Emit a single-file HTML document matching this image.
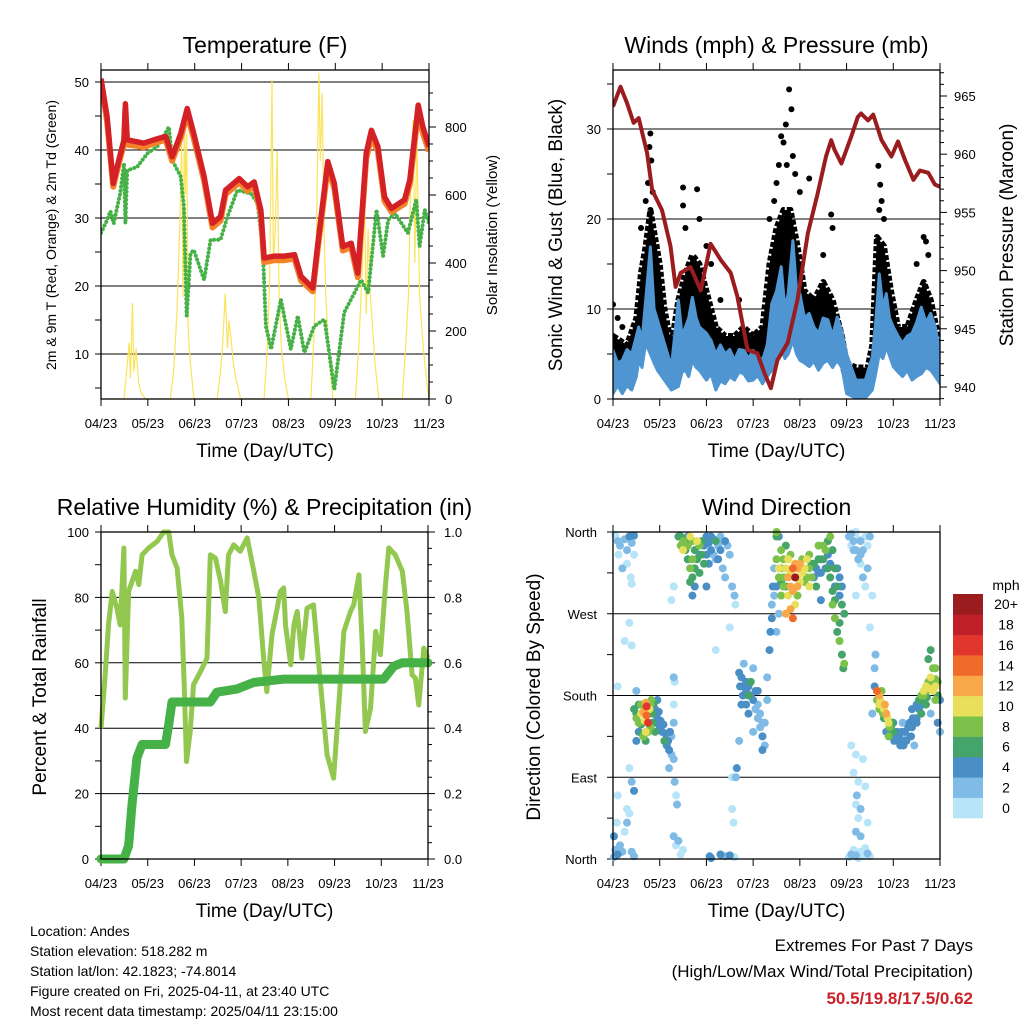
<!DOCTYPE html>
<html><head><meta charset="utf-8"><style>
html,body{margin:0;padding:0;background:#fff;}
svg{display:block;font-family:"Liberation Sans",Arial,sans-serif;}
</style></head><body>
<svg id="chart" width="1024" height="1024" viewBox="0 0 1024 1024" xmlns="http://www.w3.org/2000/svg">
<rect width="1024" height="1024" fill="#fff"/>
</svg>
<script>
// ---------- shared axis data ----------
const dayLabels = ["04/23","05/23","06/23","07/23","08/23","09/23","10/23","11/23"];
// ---------- Temperature panel ----------
const tempTime = [0,0.13,0.26,0.38,0.49,0.52,0.56,0.77,0.91,1.13,1.38,1.52,1.7,1.84,1.98,2.2,2.38,2.55,2.66,2.95,3.13,3.27,3.41,3.48,3.7,3.91,4.13,4.27,4.52,4.62,4.84,4.98,5.16,5.34,5.48,5.66,5.77,5.91,6.05,6.2,6.48,6.59,6.77,6.87,7.0];
const temp2m = [50.5,44.9,35.1,38.5,41.5,46.8,41.5,41.2,41,41.5,42,39,42.4,46.1,42.4,36.1,29.2,30.2,34.1,35.8,34.6,35.3,31.2,24.1,24.4,24.4,24.6,21.4,19.7,25.8,38.3,35.1,25.8,26.3,21.9,39.5,42.9,40.5,33.1,31.4,32.7,35.6,46.6,43.4,40.5];
const temp9m = [50.2,44.2,34.6,38,40.9,46,40.8,40.6,40.4,41,41.5,38.4,41.8,45.2,41.7,35.5,28.6,29.6,33.5,35.2,34,34.8,30.6,23.5,23.8,23.8,24,20.8,19.2,25.2,37.5,34.4,25.2,25.7,21.3,38.7,42,39.8,32.5,30.9,32.1,35,45.6,42.5,39.8];
const dewTime = [0,0.13,0.2,0.27,0.41,0.49,0.52,0.56,0.77,0.99,1.2,1.41,1.45,1.52,1.7,1.77,1.83,1.91,1.98,2.2,2.34,2.55,2.7,2.91,3.2,3.34,3.45,3.52,3.63,3.84,4.05,4.2,4.34,4.55,4.77,4.98,5.19,5.41,5.55,5.7,5.88,6.02,6.13,6.27,6.55,6.73,6.8,6.91,7.0];
const dewPoint = [27.8,29.7,31,29.2,33.6,38,29.2,37,37.5,39.5,40.5,42.9,43.4,38.5,36.1,31.7,15.6,24.8,25.3,20.9,26.8,26.8,30.2,34.1,33.6,32.2,25.8,14.1,10.7,18,10.7,15.6,10.2,14.1,15.1,4.8,16.1,19,20.9,19,31.2,24.4,29.7,30.7,27.8,32.7,25.8,31.2,29.2];
const solarTime = [0,0.49,0.56,0.6,0.63,0.67,0.7,0.75,0.8,0.85,0.95,1.48,1.55,1.62,1.68,1.72,1.75,1.78,1.8,1.83,1.86,1.9,1.98,2.48,2.55,2.6,2.65,2.7,2.73,2.78,2.82,2.88,2.98,3.48,3.55,3.6,3.65,3.68,3.72,3.76,3.8,3.85,3.92,4.0,4.48,4.55,4.6,4.65,4.68,4.72,4.76,4.8,4.87,4.95,5.43,5.5,5.58,5.62,5.66,5.7,5.75,5.8,5.85,5.93,6.43,6.5,6.56,6.62,6.66,6.7,6.74,6.8,6.88,6.95,7.0];
const solarValue = [0,0,100,165,60,282,80,150,50,20,0,0,80,250,500,750,300,850,600,780,200,120,0,0,80,170,311,150,230,170,110,60,0,0,150,350,938,400,500,730,300,150,60,0,0,200,500,960,700,900,500,300,120,0,0,150,400,650,250,500,300,200,100,0,0,150,300,700,820,400,780,300,150,50,0];
const tempTicks = [10,20,30,40,50];
const solarTicks = [0,200,400,600,800];
// ---------- Winds panel ----------
const presTime = [0,0.16,0.3,0.44,0.55,0.73,0.84,1.05,1.23,1.34,1.45,1.66,1.88,2.09,2.31,2.52,2.66,2.88,3.09,3.24,3.38,3.52,3.74,3.95,4.17,4.38,4.56,4.67,4.74,4.89,5.1,5.24,5.31,5.46,5.57,5.75,5.96,6.1,6.25,6.43,6.57,6.75,6.89,7.0];
const pressure = [964.1,965.8,964.4,962.7,963.1,960.1,956.9,955.2,952.1,948.6,949.8,950.3,948.3,952.3,950.9,949.8,947.8,943.2,942.9,941.2,939.9,942.3,943.8,947.5,953.2,956.6,959.8,961.2,960.4,959.2,961.5,963.2,963.5,962.9,963.4,961.2,959.8,961.1,959.5,957.8,958.6,958.4,957.4,957.2];
const windTime = [0,0.1,0.2,0.3,0.4,0.5,0.55,0.62,0.7,0.8,0.88,0.95,1.1,1.25,1.4,1.48,1.55,1.62,1.7,1.78,1.85,2.0,2.1,2.2,2.3,2.4,2.5,2.6,2.7,2.8,2.9,3.0,3.1,3.2,3.3,3.4,3.5,3.6,3.68,3.75,3.85,3.93,4.0,4.1,4.2,4.3,4.4,4.5,4.6,4.7,4.8,4.9,5.0,5.2,5.4,5.55,5.63,5.7,5.78,5.85,5.92,6.0,6.1,6.2,6.3,6.4,6.5,6.6,6.7,6.8,6.9,7.0];
const windLow = [0.6,1.5,0.6,1.5,1,2.5,4.3,3.5,6.2,5,4,3.2,2.1,1,1.4,3,3.2,2.5,4.3,3.5,3.2,2.1,2.8,1,2,1.7,2.5,2.1,3,2.8,2,2.1,2.6,1.7,2.5,3.2,4.5,5.8,4.5,5,6.5,5,4.3,4,3.6,4.2,3.2,4,4.3,3.5,4.3,3.5,0.6,0.1,0.1,1,3,5,4.5,5.8,4.8,3.6,3,2.5,3.2,2.1,2.5,2.8,3.5,3.2,2.5,1.7];
const windHigh = [5.4,4,4.3,5.5,5,7,8,6.5,11,16.9,10,8.8,6.2,3.6,11,7,8,9,11.3,9,8,7.3,6.5,5,6,5,5.5,4.3,5.5,5.4,4.5,5.4,4.8,4.3,6,10.6,12,14.7,10,11.7,17.6,12,11.7,9,9.5,8,7.3,9,8.8,7,9.1,7.5,5,2.1,2.1,4.7,9,13.9,10,11.7,9,8,7,6.2,7,7.3,8.5,10.2,8.5,9.5,8,5];
const gustTime = [0,0.3,0.5,0.6,0.7,0.8,0.9,1.0,1.1,1.25,1.4,1.55,1.7,1.85,2.0,2.2,2.4,2.6,2.8,3.0,3.2,3.35,3.5,3.65,3.8,3.95,4.1,4.3,4.5,4.7,4.9,5.0,5.2,5.45,5.55,5.65,5.8,5.95,6.1,6.3,6.5,6.65,6.8,7.0];
const gustLow = [3,2,4,6,7,8,6,5,4,2,4,5,5,6,5,4,3,3,4,3,4,6,9,9,8,6,5,5,5,5,4,2,1,1,3,7,7,5,4,4,5,6,5,3];
const gustHigh = [7,6,9,14,17,21,18,15,10,6,11,14,16,15,12,8,7,7,8,7,8,15,19,21,21,17,12,11,13,11,7,4,3.5,3.5,6,18,17,12,8,8,11,13,11,6];
const gustOutTime = [0.0,0.1,0.2,0.6,0.7,0.75,0.78,0.8,0.82,0.85,1.5,1.5,1.55,1.8,1.85,2.0,2.1,2.3,2.7,3.35,3.45,3.5,3.55,3.6,3.65,3.7,3.72,3.77,3.82,3.85,3.9,4.0,4.2,4.5,4.67,4.7,5.68,5.7,5.72,5.75,5.8,6.65,6.7,6.75,6.5];
const gustOutValue = [10.5,9,8,19,22,24,28,29.5,26.5,23,23.5,21.5,19,23.3,20,17,15,11,11,20,22,24,26,29.2,28.5,30.5,26,34.4,32.2,27,25,23,24.5,16,20.5,19,25.9,21,23.8,22,20,18,17.5,16,15];
const windTicks = [0,10,20,30];
const presTicks = [940,945,950,955,960,965];
// ---------- RH / precip panel ----------
const rhTime = [0,0.09,0.16,0.24,0.34,0.41,0.49,0.52,0.59,0.74,0.81,0.88,1.02,1.2,1.34,1.45,1.52,1.63,1.73,1.78,1.83,1.91,1.98,2.13,2.27,2.34,2.45,2.56,2.66,2.73,2.84,2.98,3.13,3.27,3.38,3.48,3.55,3.66,3.84,3.91,3.95,4.06,4.13,4.2,4.3,4.41,4.55,4.7,4.84,4.98,5.12,5.2,5.34,5.41,5.52,5.59,5.66,5.77,5.88,5.98,6.09,6.16,6.3,6.45,6.55,6.66,6.73,6.8,6.91,7.0];
const rhValue = [40,56.3,71.6,81.8,76.7,71.6,95.1,49.2,81.8,88,83.9,93,95.1,97.1,100,100,93,89,73.7,53.3,29.8,39,53.3,57.3,61.4,93,92,84.9,75.7,93,96.1,94.1,98.2,88,79.8,61.4,51.2,68.6,81.8,82.9,71.6,59.4,71.6,75.7,61.4,76.7,77.7,53.3,31.8,24.7,53.3,69.6,75.7,77.7,86.9,66.5,39,46.1,69.6,62.5,83.9,95.1,93,88,75.7,56.3,55.3,47.1,64.5,61.4];
const rainTime = [0,0.49,0.59,0.66,0.77,0.88,1.38,1.45,1.52,2.34,2.48,2.91,3.27,3.91,6.05,6.27,6.45,7.0];
const rainTotal = [0,0,0.04,0.16,0.31,0.35,0.35,0.41,0.48,0.48,0.51,0.52,0.54,0.55,0.55,0.59,0.60,0.60];
const pctTicks = [0,20,40,60,80,100];
const rainTicks = ["0.0","0.2","0.4","0.6","0.8","1.0"];
// ---------- Wind direction panel: [time, degrees, mph] ----------
const windDirObs = [
[0.05,357,1],[0.1,350,2],[0.15,345,2],[0.25,352,3],[0.3,340,2],[0.35,355,4],[0.4,348,2],[0.45,335,1],[0.2,320,2],[0.12,335,1],[0.3,325,1],[0.45,356,4],[0.38,310,1],[0.4,303,0],
[0.02,25,4],[0.05,10,2],[0.1,5,4],[0.15,15,2],[0.2,8,3],[0.25,30,1],[0.3,40,2],[0.35,50,0],[0.4,8,2],[0.45,3,2],[0.08,40,1],[0.02,2,3],[0.1,70,0],[0.3,55,1],
[0.35,260,0],[0.25,240,0],[0.4,235,1],[0.1,190,1],[0.5,185,2],[0.45,75,4],[0.4,85,2],[0.35,100,1],
[0.45,165,6],[0.5,155,8],[0.55,170,6],[0.6,160,10],[0.7,172,12],[0.72,158,14],[0.75,150,16],[0.7,140,10],[0.65,135,8],[0.6,148,6],[0.55,140,4],[0.8,170,8],[0.85,160,6],[0.9,165,4],[0.95,155,4],[1.0,145,4],[1.05,140,4],[1.1,130,6],[1.15,125,4],[1.2,120,4],[1.25,115,2],[1.3,110,2],[1.25,135,2],[0.9,140,6],[0.8,145,8],[1.3,150,2],[1.3,170,0],[1.32,195,0],[1.3,200,2],[0.95,175,4],[0.5,130,4],[1.2,100,2],
[0.5,160,6],[0.55,150,8],[0.6,170,8],[0.65,162,12],[0.68,152,10],[0.72,168,16],[0.78,165,10],[0.75,140,8],[0.85,150,6],[0.88,172,6],[0.92,150,4],[0.98,162,4],[1.02,152,4],[1.08,148,4],[1.12,138,4],[1.18,130,4],[1.22,140,4],[0.62,138,6],[0.7,130,6],[0.82,175,8],
[1.32,85,2],[1.35,70,0],[1.37,60,2],[1.3,25,2],[1.35,15,0],[1.4,20,2],[1.45,5,0],[1.5,10,0],
[1.4,355,6],[1.45,345,8],[1.5,340,10],[1.55,350,6],[1.6,330,6],[1.65,320,8],[1.7,310,6],[1.8,350,10],[1.85,345,8],[1.9,335,6],[1.95,325,6],[2.0,355,4],[2.05,348,4],[2.1,340,4],[2.15,352,4],[2.2,330,2],[2.25,345,2],[2.3,355,2],[2.35,320,2],[2.4,310,2],[2.5,335,2],[2.55,300,2],[2.6,290,2],[2.62,280,0],[1.75,300,4],[1.7,290,4],[1.85,315,6],[2.0,300,4],[1.25,285,0],[1.3,300,0],[2.4,350,4],[1.6,355,4],[2.2,350,6],
[1.45,355,6],[1.5,350,8],[1.55,340,6],[1.6,345,8],[1.65,355,10],[1.7,350,8],[1.75,340,6],[1.8,330,6],[1.9,350,6],[1.95,345,4],[2.0,335,4],[2.05,325,4],[2.1,355,4],[2.15,335,2],[2.25,330,4],[2.3,340,4],[2.35,350,2],[2.45,345,2],[1.7,330,8],[1.75,320,6],[1.65,305,6],[1.85,335,4],
[2.07,3,4],[2.1,1,4],[2.3,5,4],[2.4,3,2],[2.5,4,4],[2.6,2,0],[2.5,255,0],[2.2,230,0],
[2.7,205,4],[2.75,200,4],[2.8,190,4],[2.85,185,4],[2.9,180,6],[2.95,195,6],[3.0,175,4],[3.05,165,2],[3.1,155,2],[3.15,145,2],[3.2,135,4],[3.25,125,2],[2.75,170,4],[2.8,215,2],[3.0,210,2],[3.3,200,2],[3.3,175,2],[2.9,160,4],[3.1,185,4],[2.7,130,2],[2.65,100,4],[2.63,90,2],[3.2,120,4],[3.25,150,2],[3.0,140,2],
[2.72,190,4],[2.78,180,4],[2.85,195,4],[2.9,190,4],[2.95,180,4],[3.05,185,4],[3.1,170,2],[3.15,160,2],[2.85,170,4],[3.2,150,2],
[3.35,230,4],[3.37,250,4],[3.4,265,4],[3.4,280,2],[3.45,290,2],[3.42,300,4],[3.45,320,2],[3.5,355,6],[3.5,360,8],[2.55,90,0],[2.55,55,0],[2.58,40,0],
[3.5,330,8],[3.55,320,10],[3.6,340,8],[3.65,310,8],[3.7,300,6],[3.75,290,10],[3.6,290,8],[3.7,270,12],[3.8,275,12],[3.85,265,14],[3.9,280,10],[3.95,300,12],[3.8,315,10],[3.85,320,14],[3.9,310,20],[3.95,320,12],[4.0,325,12],[4.05,315,10],[4.1,305,8],[4.15,330,10],[4.2,320,8],[4.25,310,8],[4.3,325,6],[4.35,300,6],[4.4,315,4],[4.45,330,4],[4.5,345,8],[4.55,340,8],[4.6,320,6],[4.65,310,6],[4.7,295,6],[4.75,300,4],[4.8,320,4],[4.85,290,4],[4.9,280,6],[4.95,270,6],[4.7,280,8],[4.75,265,8],[4.8,250,6],[4.85,240,8],[4.9,225,6],[4.95,215,8],[4.93,210,6],[4.6,350,6],[4.65,355,8],[3.65,330,8],[3.7,345,6],[3.55,355,4],[3.8,335,8],[4.45,285,4],[4.2,300,10],[3.95,290,8],[4.4,345,8],[3.5,250,2],[3.55,270,2],
[3.55,310,8],[3.6,320,8],[3.65,300,8],[3.7,320,10],[3.75,310,12],[3.75,330,10],[3.8,300,12],[3.85,295,12],[3.9,325,12],[3.95,310,10],[4.0,305,10],[4.05,330,8],[4.1,320,10],[4.15,310,8],[4.2,335,8],[4.25,325,6],[4.3,310,4],[4.35,320,4],[4.4,330,6],[4.45,315,4],[4.5,330,6],[4.55,320,4],[4.6,335,4],[4.65,325,4],[4.7,340,6],[4.75,320,6],[4.8,300,6],[4.85,310,4],[4.9,300,4],[4.75,285,6],[4.85,260,6],[3.6,305,6],[3.5,300,4],
[5.05,355,2],[5.1,345,0],[5.15,350,2],[5.2,340,2],[5.25,330,2],[5.3,325,0],[5.35,310,2],[5.4,300,0],[5.45,345,0],[5.5,355,2],[5.2,360,0],[5.3,350,2],[5.45,320,2],[5.2,290,0],[5.55,290,0],[5.5,255,0],
[5.1,358,2],[5.15,340,2],[5.25,352,0],[5.35,340,2],[5.4,355,0],[5.3,335,2],
[5.05,2,0],[5.1,5,2],[5.15,10,0],[5.2,4,2],[5.25,1,0],[5.3,8,0],[5.35,3,0],[5.4,12,0],[5.45,6,2],[5.5,3,0],[5.2,30,2],[5.25,45,0],[5.3,55,2],[5.22,70,2],[5.25,85,0],[5.15,95,0],[5.2,115,0],[5.35,110,0],[5.1,125,0],[5.3,25,2],[5.45,40,0],[5.2,60,0],[5.4,80,0],
[5.6,190,4],[5.65,185,14],[5.7,180,12],[5.72,175,10],[5.75,170,8],[5.8,165,10],[5.85,160,12],[5.9,150,10],[5.95,145,6],[6.0,140,6],[6.05,135,4],[6.1,130,4],[6.15,125,4],[6.2,130,4],[6.25,140,4],[6.3,135,2],[6.35,150,4],[6.4,145,4],[5.7,165,8],[5.8,155,6],[5.75,185,8],[5.85,140,4],[6.0,150,4],[6.2,150,2],[5.6,210,2],[5.62,225,2],[5.55,160,2],[6.45,125,2],[6.5,150,4],[5.9,135,8],
[5.65,175,8],[5.7,170,10],[5.78,160,8],[5.82,170,12],[5.88,155,10],[5.92,145,8],[5.98,150,6],[6.02,130,4],[6.08,140,4],[6.12,135,4],[6.18,140,4],[6.22,125,4],[6.28,130,4],[6.32,145,4],[6.38,135,4],[6.42,155,4],
[6.4,165,4],[6.5,170,4],[6.55,175,6],[6.6,180,8],[6.65,185,10],[6.7,190,10],[6.75,195,8],[6.8,200,10],[6.85,195,8],[6.9,190,10],[6.95,180,6],[7.0,175,4],[6.75,220,6],[6.8,230,6],[6.85,210,8],[6.6,160,6],[6.5,155,4],[6.7,170,6],[6.9,175,8],[6.95,195,8],[7.0,140,2],[6.95,150,4],[6.8,160,2],[6.9,210,8],
[6.6,175,6],[6.65,180,8],[6.7,185,8],[6.75,188,10],[6.8,190,8],[6.85,185,10],[6.9,198,8],[6.72,178,6],[6.55,165,4],[6.62,170,4]
];
const dirTicks = [0,90,180,270,360];
const dirTickLabels = ["North","East","South","West","North"];
const speedLabels = ["0","2","4","6","8","10","12","14","16","18","20+"];
const speedColors = ["#b8e4f8","#80bbe5","#4a8ec6","#45a46a","#7cc24a","#e8e05a","#f8a848","#f06a2a","#e0362c","#c0202a","#9b1c1f"];

// ---------- drawing ----------
const NS="http://www.w3.org/2000/svg";
const svg=document.getElementById('chart');
function el(tag,attrs,parent,txt){const e=document.createElementNS(NS,tag);for(const k in attrs)e.setAttribute(k,attrs[k]);if(txt!==undefined)e.textContent=txt;(parent||svg).appendChild(e);return e;}
function grp(name){const g=el('g',{});


return g;}
function txt(parent,x,y,s,size,anchor,name,extra){const t=el('text',Object.assign({x:x,y:y,'font-size':size,'text-anchor':anchor||'middle',fill:'#000'},extra||{}),parent,s);


return t;}
function path(pts){return pts.map((p,i)=>(i?'L':'M')+p[0].toFixed(1)+' '+p[1].toFixed(1)).join('');}

function makePanel(name,x0,x1,y0,y1,title){
  const g=grp(name);
  const xs=t=>x0+(x1-x0)*t/7;
  txt(g,(x0+x1)/2,y0-17,title,23,'middle',name+'-title');
  const xl=grp(name+'-x-axis');g.appendChild(xl);
  dayLabels.forEach((d,i)=>{const x=xs(i);
    el('line',{x1:x,x2:x,y1:y1,y2:y1+7,stroke:'#000','stroke-width':1},xl);
    el('line',{x1:x,x2:x,y1:y0,y2:y0-7,stroke:'#000','stroke-width':1},xl);
    txt(xl,x,y1+29,d,13,'middle','x-tick-label');});
  txt(g,(x0+x1)/2,y1+58,'Time (Day/UTC)',19,'middle',name+'-x-axis-title');
  return {g,xs};
}
function frame(g,x0,x1,y0,y1,name){const r=el('rect',{x:x0,y:y0,width:x1-x0,height:y1-y0,fill:'none',stroke:'#000','stroke-width':1.3},g);

}

// Panel 1: Temperature
(function(){
 const x0=101,x1=429,y0=70,y1=399;
 const {g,xs}=makePanel('temperature-panel',x0,x1,y0,y1,'Temperature (F)');
 const ys=v=>354-(v-10)*6.8, yr=v=>399-v*0.34;
 const ax=grp('temp-left-axis');g.appendChild(ax);
 for(let v=5;v<=50;v+=5){const y=ys(v);el('line',{x1:x0-6,x2:x0,y1:y,y2:y,stroke:'#000'},ax);}
 tempTicks.forEach(v=>{const y=ys(v);el('line',{x1:x0,x2:x1,y1:y,y2:y,stroke:'#000','stroke-width':1},ax);txt(ax,x0-12,y+5,String(v),13,'end','y-tick-label');});
 const ar=grp('solar-right-axis');g.appendChild(ar);
 for(let v=0;v<=900;v+=50){const y=yr(v);el('line',{x1:x1,x2:x1+(v%200==0?7:4),y1:y,y2:y,stroke:'#000'},ar);}
 solarTicks.forEach(v=>{txt(ar,x1+16,yr(v)+5,String(v),13,'start','y2-tick-label');});
 txt(g,56,235,'2m & 9m T (Red, Orange) & 2m Td (Green)',14,'middle','temp-y-axis-title',{transform:'rotate(-90 56 235)'});
 txt(g,497,235,'Solar Insolation (Yellow)',15,'middle','solar-y-axis-title',{transform:'rotate(-90 497 235)'});
 const cp=el('clipPath',{id:'c1'});el('rect',{x:x0,y:y0,width:x1-x0,height:y1-y0},cp);
 const d=grp('temperature-series');d.setAttribute('clip-path','url(#c1)');g.appendChild(d);
 let p=el('path',{d:path(solarTime.map((t,i)=>[xs(t),yr(solarValue[i])])),fill:'none',stroke:'#fbe35a','stroke-width':1.2},d);
 
 p=el('path',{d:path(dewTime.map((t,i)=>[xs(t),ys(dewPoint[i])])),fill:'none',stroke:'#46b146','stroke-width':4,'stroke-linecap':'round','stroke-dasharray':'0.1 4'},d);
 
 p=el('path',{d:path(tempTime.map((t,i)=>[xs(t),ys(temp9m[i])])),fill:'none',stroke:'#f4812a','stroke-width':6,'stroke-linejoin':'round'},d);
 
 p=el('path',{d:path(tempTime.map((t,i)=>[xs(t),ys(temp2m[i])])),fill:'none',stroke:'#d42126','stroke-width':5.5,'stroke-linejoin':'round'},d);
 
 frame(g,x0,x1,y0,y1,'temperature');
})();

// Panel 2: Winds
(function(){
 const x0=613,x1=940,y0=70,y1=399;
 const {g,xs}=makePanel('winds-panel',x0,x1,y0,y1,'Winds (mph) & Pressure (mb)');
 const ys=v=>399-v*9.0, yp=p=>387-(p-940)*11.64;
 const ax=grp('wind-left-axis');g.appendChild(ax);
 for(let v=0;v<=35;v+=5){const y=ys(v);if(y>=y0)el('line',{x1:x0-6,x2:x0,y1:y,y2:y,stroke:'#000'},ax);}
 windTicks.forEach(v=>{const y=ys(v);el('line',{x1:x0,x2:x1,y1:y,y2:y,stroke:'#000'},ax);txt(ax,x0-12,y+5,String(v),13,'end','y-tick-label');});
 const ar=grp('pressure-right-axis');g.appendChild(ar);
 for(let v=939;v<=967;v++){const y=yp(v);if(y>=y0&&y<=y1)el('line',{x1:x1,x2:x1+(v%5==0?7:4),y1:y,y2:y,stroke:'#000'},ar);}
 presTicks.forEach(v=>{txt(ar,x1+14,yp(v)+5,String(v),13,'start','y2-tick-label');});
 txt(g,562,235,'Sonic Wind & Gust (Blue, Black)',19,'middle','wind-y-axis-title',{transform:'rotate(-90 562 235)'});
 txt(g,1013,235,'Station Pressure (Maroon)',19,'middle','pressure-y-axis-title',{transform:'rotate(-90 1013 235)'});
 const cp=el('clipPath',{id:'c2'});el('rect',{x:x0,y:y0,width:x1-x0,height:y1-y0},cp);
 const d=grp('wind-series');d.setAttribute('clip-path','url(#c2)');g.appendChild(d);
 let gp=gustTime.map((t,i)=>[xs(t),ys(gustHigh[i])]).concat(gustTime.map((t,i)=>[xs(t),ys(gustLow[i])]).reverse());
 let p=el('path',{d:path(gp)+'Z',fill:'#000',stroke:'#000','stroke-width':6,'stroke-linejoin':'round','stroke-dasharray':'5 2'},d);
 
 gustOutTime.forEach((t,i)=>{const c=el('circle',{cx:xs(t),cy:ys(gustOutValue[i]),r:3,fill:'#000'},d);
  });
 let wp=windTime.map((t,i)=>[xs(t),ys(windHigh[i])]).concat(windTime.map((t,i)=>[xs(t),ys(windLow[i])]).reverse());
 p=el('path',{d:path(wp)+'Z',fill:'#4f95d2',stroke:'#4f95d2','stroke-width':3,'stroke-linejoin':'round'},d);
 
 p=el('path',{d:path(presTime.map((t,i)=>[xs(t),yp(pressure[i])])),fill:'none',stroke:'#9b1c1f','stroke-width':4,'stroke-linejoin':'round'},d);
 
 frame(g,x0,x1,y0,y1,'winds');
})();

// Panel 3: RH & precip
(function(){
 const x0=101,x1=428,y0=532,y1=859;
 const {g,xs}=makePanel('humidity-panel',x0,x1,y0,y1,'Relative Humidity (%) & Precipitation (in)');
 const ys=v=>859-v*3.27;
 const ax=grp('rh-left-axis');g.appendChild(ax);
 for(let v=0;v<=100;v+=10){const y=ys(v);el('line',{x1:x0-6,x2:x0,y1:y,y2:y,stroke:'#000'},ax);}
 pctTicks.forEach(v=>{const y=ys(v);el('line',{x1:x0,x2:x1,y1:y,y2:y,stroke:'#000'},ax);txt(ax,x0-12,y+5,String(v),13,'end','y-tick-label');});
 const ar=grp('rain-right-axis');g.appendChild(ar);
 for(let v=0;v<=100;v+=5){const y=ys(v);el('line',{x1:x1,x2:x1+(v%20==0?7:4),y1:y,y2:y,stroke:'#000'},ar);}
 rainTicks.forEach((s,i)=>{txt(ar,x1+16,ys(i*20)+5,s,13,'start','y2-tick-label');});
 txt(g,46,697,'Percent & Total Rainfall',19,'middle','rh-y-axis-title',{transform:'rotate(-90 46 697)'});
 const cp=el('clipPath',{id:'c3'});el('rect',{x:x0-6,y:y0-3,width:x1-x0+12,height:y1-y0+9},cp);
 const d=grp('rh-series');d.setAttribute('clip-path','url(#c3)');g.appendChild(d);
 let p=el('path',{d:path(rhTime.map((t,i)=>[xs(t),ys(rhValue[i])])),fill:'none',stroke:'#92c850','stroke-width':5,'stroke-linejoin':'round'},d);
 
 p=el('path',{d:path(rainTime.map((t,i)=>[xs(t),ys(rainTotal[i]*100)])),fill:'none',stroke:'#46b146','stroke-width':9,'stroke-linejoin':'round','stroke-linecap':'round'},d);
 
 frame(g,x0,x1,y0,y1,'humidity');
})();

// Panel 4: Wind direction
(function(){
 const x0=613,x1=940,y0=532,y1=859;
 const {g,xs}=makePanel('wind-direction-panel',x0,x1,y0,y1,'Wind Direction');
 const ys=v=>859-v*(327/360);
 const ax=grp('direction-left-axis');g.appendChild(ax);
 for(let v=0;v<=360;v+=45){const y=ys(v);el('line',{x1:x0-6,x2:x0,y1:y,y2:y,stroke:'#000'},ax);}
 dirTicks.forEach((v,i)=>{const y=ys(v);el('line',{x1:x0,x2:x1,y1:y,y2:y,stroke:'#000'},ax);txt(ax,x0-16,y+5,dirTickLabels[i],13,'end','y-tick-label');});
 txt(g,540,697,'Direction (Colored By Speed)',19,'middle','direction-y-axis-title',{transform:'rotate(-90 540 697)'});
 const d=grp('direction-points');g.appendChild(d);
 const order=windDirObs.map((o,i)=>i).sort((a,b)=>windDirObs[a][2]-windDirObs[b][2]);
 order.forEach(i=>{const o=windDirObs[i];const ci=Math.min(10,Math.max(0,Math.floor(o[2]/2)));
  const c=el('circle',{cx:xs(o[0]),cy:ys(o[1]),r:4,fill:speedColors[ci]},d);
  
  });
 frame(g,x0,x1,y0,y1,'wind-direction');
 const lg=grp('speed-colorbar');
 txt(lg,1006,590,'mph',14,'middle','colorbar-title');
 const bh=224/speedLabels.length;
 speedLabels.forEach((s,i)=>{const k=speedLabels.length-1-i;const y=594+k*bh;
  const r=el('rect',{x:953,y:y,width:30,height:bh+0.3,fill:speedColors[i]},lg);
  
  txt(lg,1006,y+bh/2+5,s,14,'middle','colorbar-label');});
})();

// Footer text
(function(){
 const g=grp('station-info');
 ["Location: Andes","Station elevation: 518.282 m","Station lat/lon: 42.1823; -74.8014","Figure created on Fri, 2025-04-11, at 23:40 UTC","Most recent data timestamp: 2025/04/11 23:15:00"].forEach((s,i)=>txt(g,30,936+i*20,s,14,'start','info-line'));
 const e=grp('extremes');
 txt(e,973,951,'Extremes For Past 7 Days',17,'end','extremes-title');
 txt(e,973,977,'(High/Low/Max Wind/Total Precipitation)',17,'end','extremes-subtitle');
 txt(e,973,1004,'50.5/19.8/17.5/0.62',17,'end','extremes-values',{fill:'#cc2229','font-weight':'bold'});
})();
</script>
</body></html>
